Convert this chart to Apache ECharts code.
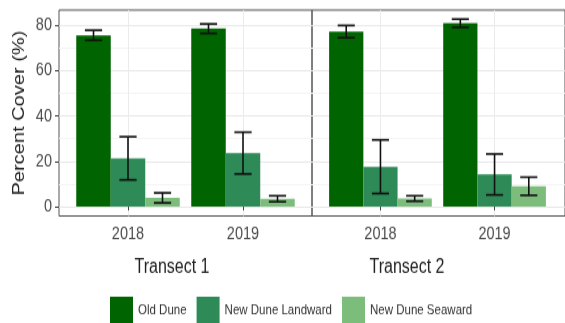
<!DOCTYPE html>
<html>
<head>
<meta charset="utf-8">
<script src="https://cdn.jsdelivr.net/npm/echarts@6/dist/echarts.min.js"></script>
<style>
  html, body { margin: 0; padding: 0; background: #fff; width: 565px; height: 323px; }
  /* the figure is laid out at 565x258 and stretched to 565x323 */
  #chart { width: 565px; height: 258px; transform: scaleY(1.251938); transform-origin: 0 0; }
</style>
</head>
<body>
<div id="chart"></div>
<script>
// Categories and labels
const years = ['2018', '2019'];
const groups = ['Old Dune', 'New Dune Landward', 'New Dune Seaward'];
const transects = ['Transect 1', 'Transect 2'];
const yTicks = [0, 20, 40, 60, 80];
const yMinorTicks = [10, 30, 50, 70];

// Mean percent cover, one value per year
const t1OldDune = [75.5, 78.4];
const t1Landward = [21.3, 23.6];
const t1Seaward = [3.9, 3.5];
const t2OldDune = [77.1, 80.8];
const t2Landward = [17.6, 14.2];
const t2Seaward = [3.6, 9.0];

// Standard errors, one value per year
const t1OldDuneSE = [2.2, 2.1];
const t1LandwardSE = [9.5, 9.2];
const t1SeawardSE = [2.2, 1.3];
const t2OldDuneSE = [2.7, 1.8];
const t2LandwardSE = [11.8, 9.0];
const t2SeawardSE = [1.2, 4.0];

const means = [[t1OldDune, t1Landward, t1Seaward], [t2OldDune, t2Landward, t2Seaward]];
const errors = [[t1OldDuneSE, t1LandwardSE, t1SeawardSE], [t2OldDuneSE, t2LandwardSE, t2SeawardSE]];
const colors = ['#006400', '#2e8b57', '#7cbd7c'];

const FONT = '"Liberation Sans", Arial, Helvetica, sans-serif';
const Y_MIN = -4.1, Y_MAX = 86.6;
const DODGE = 0.9;
const BAR_W = DODGE / groups.length;
const CAP_W = 0.15;

const chart = echarts.init(document.getElementById('chart'), null, { renderer: 'canvas' });

const grids = [
  { left: 59, top: 8, width: 253, height: 164.5 },
  { left: 312, top: 8, width: 255, height: 164.5 }
].map(g => Object.assign(g, { show: true, borderColor: '#555', borderWidth: 1, backgroundColor: 'transparent' }));

const xAxes = transects.map((t, i) => ({
  type: 'value', gridIndex: i, min: 0.4, max: i === 0 ? 2.6 : 2.6174,
  axisLine: { show: false },
  axisTick: { show: true, length: 3, lineStyle: { color: '#444', width: 1 }, customValues: [1, 2] },
  axisLabel: {
    customValues: [1, 2], margin: 7,
    formatter: v => years[Math.round(v) - 1],
    color: '#4d4d4d', fontSize: 14.5, fontFamily: FONT
  },
  splitLine: { show: true, lineStyle: { color: '#ebebeb', width: 1 } }
}));

const yMajor = transects.map((t, i) => ({
  type: 'value', gridIndex: i, min: Y_MIN, max: Y_MAX,
  name: i === 0 ? 'Percent Cover (%)' : '',
  nameLocation: 'middle', nameGap: 31,
  nameTextStyle: { color: '#222', fontSize: 16, fontFamily: FONT },
  axisLine: { show: false },
  axisTick: { show: i === 0, length: 4, lineStyle: { color: '#444', width: 1 }, customValues: yTicks },
  axisLabel: { show: i === 0, customValues: yTicks, margin: 7, color: '#4d4d4d', fontSize: 14.5, fontFamily: FONT },
  splitLine: { show: true, lineStyle: { color: '#e8e8e8', width: 1 } }
}));

const yMinor = transects.map((t, i) => ({
  type: 'value', gridIndex: i, min: Y_MIN, max: Y_MAX,
  axisLine: { show: false },
  axisTick: { show: false, customValues: yMinorTicks },
  axisLabel: { show: false, customValues: yMinorTicks },
  splitLine: { show: true, lineStyle: { color: '#f4f4f4', width: 1 } }
}));

// Bar with its standard-error whisker, dodged within each year
function makeRender(groupIdx) {
  return function (params, api) {
    const x = api.value(0) + (groupIdx - 1) * BAR_W;
    const mean = api.value(1);
    const se = api.value(2);
    const tl = api.coord([x - BAR_W / 2, mean]);
    const br = api.coord([x + BAR_W / 2, 0]);
    const lo = api.coord([x, mean - se]);
    const hi = api.coord([x, mean + se]);
    const capL = api.coord([x - CAP_W / 2, 0])[0];
    const capR = api.coord([x + CAP_W / 2, 0])[0];
    const whisker = { stroke: '#111', lineWidth: 1.6 };
    return {
      type: 'group',
      children: [
        { type: 'rect', shape: { x: tl[0], y: tl[1], width: br[0] - tl[0], height: br[1] - tl[1] },
          style: { fill: colors[groupIdx] } },
        { type: 'line', shape: { x1: hi[0], y1: hi[1], x2: lo[0], y2: lo[1] }, style: whisker },
        { type: 'line', shape: { x1: capL, y1: hi[1], x2: capR, y2: hi[1] }, style: whisker },
        { type: 'line', shape: { x1: capL, y1: lo[1], x2: capR, y2: lo[1] }, style: whisker }
      ]
    };
  };
}

const series = [];
transects.forEach((t, ti) => {
  groups.forEach((g, gi) => {
    series.push({
      type: 'custom', name: g,
      xAxisIndex: ti, yAxisIndex: ti,
      itemStyle: { color: colors[gi] },
      renderItem: makeRender(gi),
      encode: { x: 0, y: 1 },
      data: years.map((y, yi) => [yi + 1, means[ti][gi][yi], errors[ti][gi][yi]]),
      silent: true, animation: false
    });
  });
});

chart.setOption({
  animation: false,
  grid: grids,
  xAxis: xAxes,
  yAxis: yMajor.concat(yMinor),
  legend: {
    data: groups, icon: 'rect', left: 110, top: 237, padding: 0,
    itemWidth: 23, itemHeight: 21, itemGap: 10,
    textStyle: { color: '#333', fontSize: 11.5, fontFamily: FONT },
    selectedMode: false
  },
  graphic: [
    { type: 'text', x: 172, y: 214,
      style: { text: transects[0], fill: '#222', fontSize: 16, fontFamily: FONT, align: 'center', verticalAlign: 'middle' } },
    { type: 'text', x: 407, y: 214,
      style: { text: transects[1], fill: '#222', fontSize: 16, fontFamily: FONT, align: 'center', verticalAlign: 'middle' } }
  ],
  series: series
});
</script>
</body>
</html>
